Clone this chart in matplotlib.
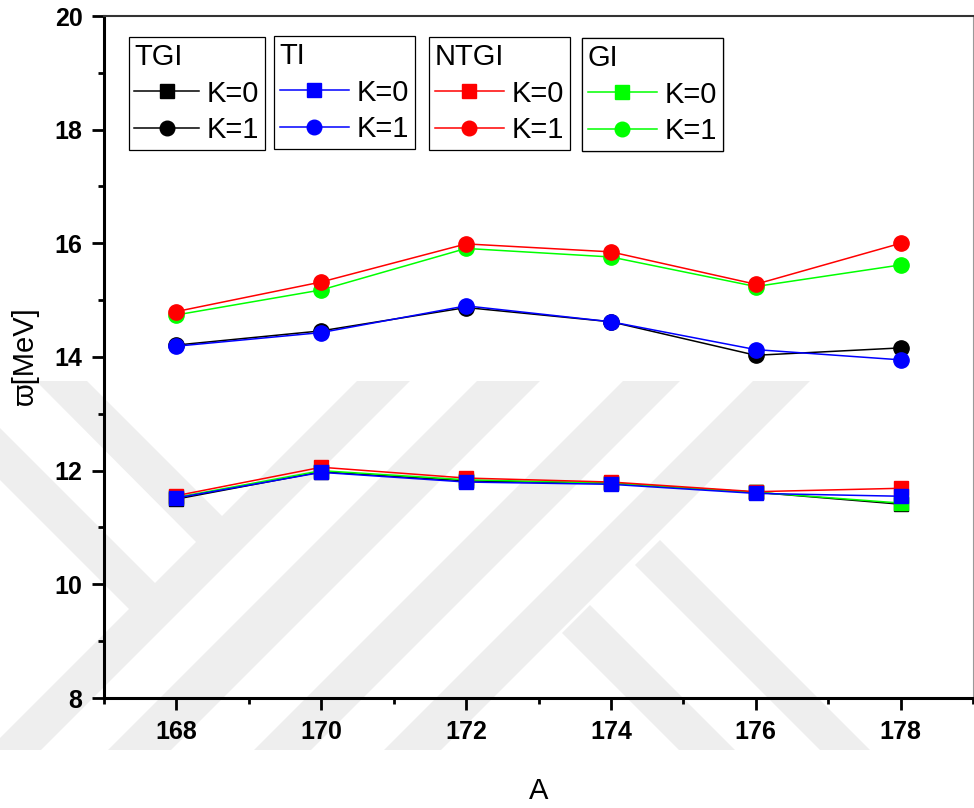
import matplotlib
matplotlib.use('Agg')
import matplotlib.pyplot as plt
from matplotlib.lines import Line2D
from matplotlib.patches import Polygon, Rectangle
from matplotlib.ticker import MultipleLocator
from matplotlib import font_manager

# 质量数 A 与各模型的 ϖ 值 (MeV)
A = [168, 170, 172, 174, 176, 178]
tgi_k0 = [11.50, 11.98, 11.82, 11.78, 11.62, 11.41]
tgi_k1 = [14.21, 14.46, 14.87, 14.62, 14.03, 14.16]
ti_k0 = [11.52, 11.97, 11.80, 11.76, 11.60, 11.55]
ti_k1 = [14.19, 14.43, 14.90, 14.62, 14.13, 13.95]
ntgi_k0 = [11.56, 12.06, 11.87, 11.80, 11.63, 11.69]
ntgi_k1 = [14.80, 15.32, 15.99, 15.85, 15.28, 16.00]
gi_k0 = [11.53, 12.00, 11.84, 11.78, 11.62, 11.43]
gi_k1 = [14.74, 15.18, 15.91, 15.76, 15.24, 15.62]

models = ['TGI', 'TI', 'NTGI', 'GI']
colors = {'TGI': '#000000', 'TI': '#0000ff', 'NTGI': '#ff0000', 'GI': '#00ff00'}
series = {
    'TGI': (tgi_k0, tgi_k1),
    'TI': (ti_k0, ti_k1),
    'NTGI': (ntgi_k0, ntgi_k1),
    'GI': (gi_k0, gi_k1),
}
draw_order = ['TGI', 'GI', 'NTGI', 'TI']

W, H = 974, 808
names = {f.name for f in font_manager.fontManager.ttflist}
if 'Liberation Sans Narrow' in names:
    TICK_FONT, TICK_SIZE = 'Liberation Sans Narrow', 20
else:
    TICK_FONT, TICK_SIZE = 'Liberation Sans', 18
SANS = ['Liberation Sans', 'DejaVu Sans']

fig = plt.figure(figsize=(W / 100, H / 100), dpi=100)
fig.patch.set_facecolor('white')


def px(x, y):
    # 像素坐标(左上角为原点) -> figure 坐标
    return (x / W, 1 - y / H)


# 背景水印: 45°浅灰条带
wm_color = '#eeeeee'
clip = Rectangle(px(0, 750), 1, (750 - 381) / H, transform=fig.transFigure)
bands = []
for a, b in [(738, 791), (858, 921), (1004, 1061), (1134, 1191)]:
    bands.append([(a - 381, 381), (b - 381, 381), (b - 750, 750), (a - 750, 750)])
bands.append([(36, 381), (87, 381), (228, 522), (202, 548)])
bands.append([(-10, 418), (160, 588), (134, 614), (-10, 470)])
bands.append([(660, 540), (870, 750), (820, 750), (635, 565)])
bands.append([(590, 605), (735, 750), (679, 750), (562, 633)])
for pts in bands:
    poly = Polygon([px(x, y) for x, y in pts], closed=True, facecolor=wm_color,
                   edgecolor='none', transform=fig.transFigure, zorder=-5)
    poly.set_clip_path(clip)
    fig.add_artist(poly)

ax = fig.add_axes([104 / W, (H - 698) / H, (973 - 104) / W, 682 / H])
ax.set_facecolor('none')

for m in draw_order:
    k0, k1 = series[m]
    c = colors[m]
    ax.plot(A, k0, color=c, lw=1.1, marker='s', ms=10.5, mec=c, mfc=c)
    ax.plot(A, k1, color=c, lw=1.1, marker='o', ms=11, mec=c, mfc=c)

ax.set_xlim(167, 179)
ax.set_ylim(8, 20)
ax.xaxis.set_major_locator(MultipleLocator(2))
ax.xaxis.set_minor_locator(MultipleLocator(1))
ax.yaxis.set_major_locator(MultipleLocator(2))
ax.yaxis.set_minor_locator(MultipleLocator(1))

ax.tick_params(which='major', direction='out', length=8.5, width=2, pad=7,
               labelsize=TICK_SIZE, top=False, right=False)
ax.tick_params(which='minor', direction='out', length=4, width=2, top=False, right=False)
for lbl in ax.get_xticklabels() + ax.get_yticklabels():
    lbl.set_fontfamily(TICK_FONT)
    lbl.set_fontweight('bold')

for side in ['left', 'bottom']:
    ax.spines[side].set_linewidth(2.2)
    ax.spines[side].set_color('black')
ax.spines['top'].set_linewidth(1.5)
ax.spines['top'].set_color('#333333')
ax.spines['right'].set_linewidth(0.8)
ax.spines['right'].set_color('#999999')

fig.text(539 / W, 1 - 791 / H, 'A', ha='center', va='center', fontsize=21, family=SANS)
fig.text(25 / W, 1 - 356 / H, 'ϖ[MeV]', ha='center', va='center', rotation=90,
         fontsize=21, family=SANS)

# 四个独立图例框
boxes = {'TGI': (128.6, 37, 2.2), 'TI': (274, 36, 2.37),
         'NTGI': (429, 37, 2.37), 'GI': (582, 38, 2.37)}
for m in models:
    c = colors[m]
    x0, y0, hl = boxes[m]
    handles = [Line2D([], [], color=c, lw=1.1, marker='s', ms=10, mec=c, mfc=c),
               Line2D([], [], color=c, lw=1.1, marker='o', ms=10.5, mec=c, mfc=c)]
    leg = ax.legend(handles, ['K=0', 'K=1'], title=m, loc='upper left',
                    bbox_to_anchor=px(x0, y0), bbox_transform=fig.transFigure,
                    borderaxespad=0, borderpad=0.2, labelspacing=0.3,
                    handlelength=hl, handletextpad=0.27, numpoints=1,
                    fancybox=False, framealpha=1, edgecolor='black',
                    prop={'family': SANS, 'size': 21},
                    title_fontproperties={'family': SANS, 'size': 21},
                    alignment='left')
    leg.get_frame().set_linewidth(0.9)
    ax.add_artist(leg)

fig.savefig('out.png', dpi=100)
